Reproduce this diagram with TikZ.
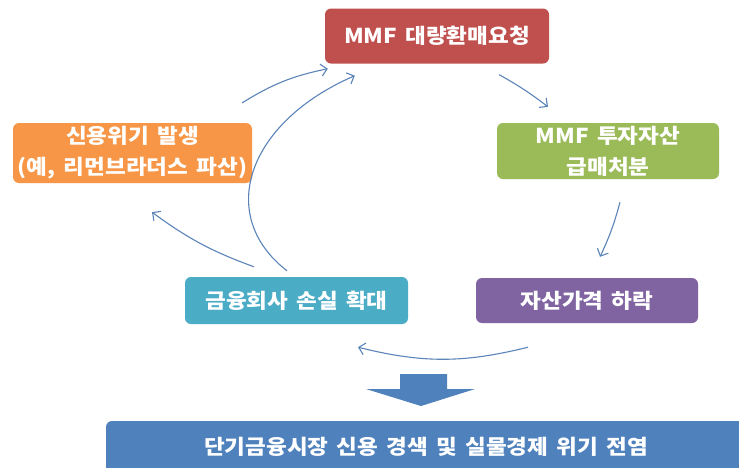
\documentclass[tikz,border=0pt]{standalone}
\usepackage{fontspec}
\setmainfont{Noto Sans CJK KR}[FakeStretch=1.1,WordSpace=1.6]
\usetikzlibrary{arrows.meta,calc}
\definecolor{cred}{HTML}{C0504D}
\definecolor{corange}{HTML}{F79646}
\definecolor{cgreen}{HTML}{9BBB59}
\definecolor{cteal}{HTML}{4BACC6}
\definecolor{cpurple}{HTML}{8064A2}
\definecolor{cblue}{HTML}{4F81BD}
\definecolor{carrow}{HTML}{5B84B8}
\begin{document}
\begin{tikzpicture}[x=1pt,y=-1pt,
  box/.style={rounded corners=6pt, text=white, font=\bfseries\fontsize{20.5}{31}\selectfont, align=center, inner sep=0pt},
  conn/.style={draw=carrow, line width=1.1pt, -{Straight Barb[length=6pt,width=12pt,line width=1.1pt]}}]
\useasboundingbox (0,0) rectangle (739,467);
\fill[white] (0,0) rectangle (739,467);
\node[box, fill=cred, minimum width=224pt, minimum height=55pt] (mmf) at (437,36) {MMF 대량환매요청};
\node[box, fill=corange, minimum width=239pt, minimum height=60pt] (org) at (132.5,153) {신용위기 발생\\(예, 리먼브라더스 파산)};
\node[box, fill=cgreen, minimum width=222pt, minimum height=56pt] (grn) at (608,151) {MMF 투자자산\\급매처분};
\node[box, fill=cteal, minimum width=223pt, minimum height=47pt] (teal) at (296.5,300.5) {금융회사 손실 확대};
\node[box, fill=cpurple, minimum width=222pt, minimum height=45pt] (pur) at (587,300.5) {자산가격 하락};
\node[box, fill=cblue, minimum width=640pt, minimum height=52pt] (bot) at (426,447) {단기금융시장 신용 경색 및 실물경제 위기 전염};
% block arrow
\fill[cblue] (400,374) -- (447,374) -- (447,389) -- (475,389) -- (421,406) -- (366,389) -- (400,389) -- cycle;
% connectors
\draw[conn] ([shift={(-10,-20)}]org.north east) to[bend left=10] ([shift={(3,5)}]mmf.south west);
\draw[conn] ([shift={(-9.5,-6)}]teal.north) .. controls (215,215) and (248,122) .. ([shift={(30,12)}]mmf.south west);
\draw[conn] ([shift={(-50,11)}]mmf.south east) to[bend left=4] ([shift={(-60,-16)}]grn.north);
\draw[conn] ([shift={(12,23)}]grn.south) to[bend left=5] ([shift={(13,-21)}]pur.north);
\draw[conn] ([shift={(-59,24)}]pur.south) to[bend left=14] ([shift={(61.5,23)}]teal.south);
\draw[conn] ([shift={(-42.5,-10)}]teal.north) to[bend left=8] ([shift={(19.5,29)}]org.south);
\end{tikzpicture}
\end{document}
